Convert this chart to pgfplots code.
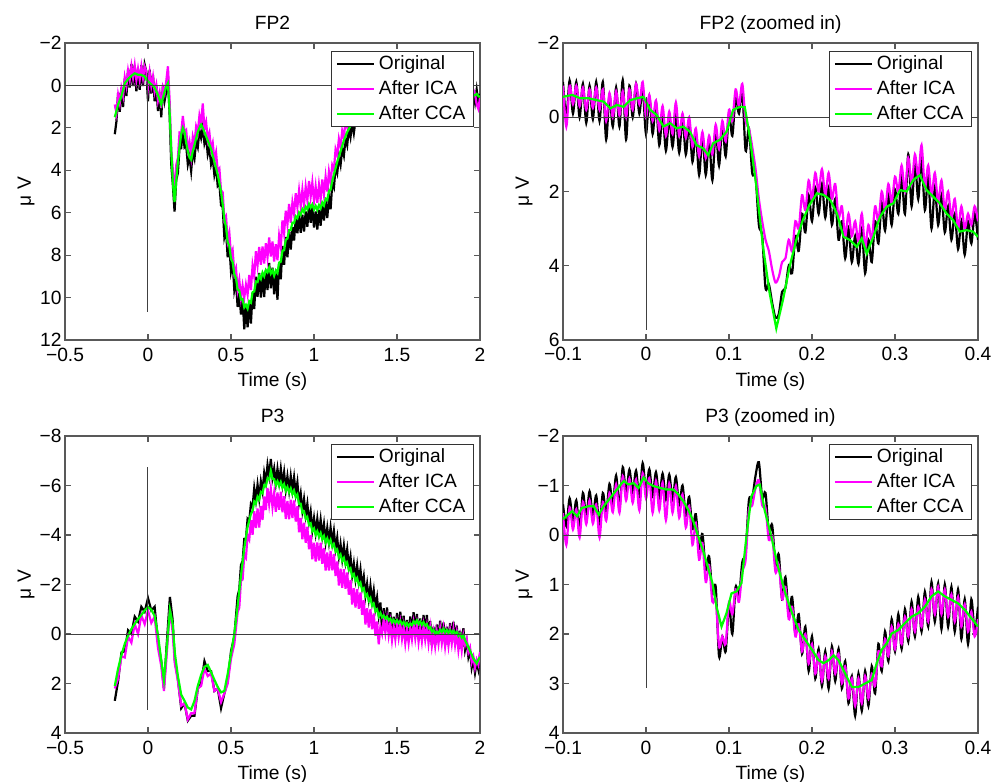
\documentclass[border=0pt]{standalone}
\usepackage{fontspec}
\setmainfont{Liberation Sans}
\usepackage{pgfplots}
\pgfplotsset{compat=1.18}
\usepackage{pgfplotstable}
\definecolor{mgreen}{rgb}{0,1,0}
\definecolor{mmag}{rgb}{1,0,1}
\newcommand{\fs}{\fontsize{9.6}{11}\selectfont}

\pgfplotstableread{
x g b m
-0.20 1.5 2.3 0.9
-0.19 1.2 1.69 1.31
-0.18 0.9 0.34 0.44
-0.17 0.7 1.24 0.84
-0.16 0.5 0.1 0.13
-0.15 0.2 1.02 0.49
-0.14 -0.1 -0.33 -0.38
-0.13 -0.2 0.5 0.03
-0.12 -0.3 -0.75 -0.7
-0.11 -0.38 0.1 -0.27
-0.10 -0.45 -1.01 -0.91
-0.09 -0.51 0.03 -0.37
-0.08 -0.57 -0.97 -0.94
-0.07 -0.54 0.28 -0.25
-0.06 -0.5 -0.73 -0.78
-0.05 -0.5 0.21 -0.27
-0.04 -0.5 -0.95 -0.9
-0.03 -0.46 0.03 -0.35
-0.02 -0.42 -0.98 -0.88
-0.01 -0.31 -0.65 -0.65
0.00 -0.2 0.75 0.1
0.01 -0.12 -0.74 -0.61
0.02 -0.05 0.38 0.03
0.03 0.02 -0.49 -0.41
0.04 0.1 0.75 0.3
0.05 0.27 -0.02 -0.04
0.06 0.45 1.21 0.71
0.07 0.67 0.33 0.33
0.08 0.9 1.5 1.07
0.09 0.6 -0.02 0.11
0.10 0.3 0.73 0.38
0.11 0.05 0.3 -0.2
0.12 -0.1 -0.4 -0.9
0.13 1.2 1.34 0.64
0.14 3.0 3.71 3.01
0.15 4.6 4.71 4.01
0.16 5.5 5.95 5.3
0.17 4.5 4.46 3.76
0.18 3.6 4.13 3.43
0.19 2.9 2.92 2.22
0.20 2.3 2.95 2.25
0.21 2.0 2.14 1.44
0.22 2.2 2.91 2.21
0.23 2.7 2.81 2.11
0.24 3.1 3.72 3.02
0.25 3.4 3.36 2.66
0.26 3.5 4.03 3.33
0.27 3.1 3.12 2.42
0.28 2.8 3.45 2.75
0.29 2.5 2.64 1.94
0.30 2.2 2.91 2.21
0.31 2.0 2.11 1.41
0.32 1.85 2.47 1.77
0.33 2.0 1.96 0.85
0.34 2.2 2.73 2.03
0.35 2.4 2.42 1.72
0.36 2.6 3.25 2.55
0.37 2.8 2.94 2.24
0.38 3.0 3.71 3.01
0.39 3.3 3.41 2.71
0.40 3.6 4.22 3.52
0.41 3.9 3.86 3.16
0.42 4.2 4.73 4.03
0.43 4.6 4.62 3.92
0.44 5.0 5.65 4.95
0.45 5.6 5.74 5.04
0.46 6.32 7.14 6.32
0.47 6.67 6.79 6.17
0.48 7.39 8.1 7.32
0.49 7.57 7.52 6.95
0.50 8.16 8.77 8.01
0.51 8.34 8.36 7.77
0.52 8.9 9.65 8.85
0.53 9.08 9.24 8.61
0.54 9.62 10.44 9.62
0.55 9.67 9.79 9.17
0.56 10.09 10.8 10.0
0.57 10.07 10.02 9.45
0.58 10.46 11.5 10.0
0.59 10.34 10.36 9.4
0.60 10.52 11.4 9.85
0.61 10.17 10.23 8.94
0.62 10.24 11.22 9.64
0.63 9.75 9.77 8.49
0.64 9.71 10.54 9.0
0.65 9.24 9.02 7.82
0.66 9.27 9.96 8.47
0.67 8.97 8.84 7.61
0.68 9.12 10.0 8.45
0.69 8.82 8.88 7.59
0.70 8.99 9.97 8.39
0.71 8.7 8.72 7.44
0.72 8.81 9.64 8.1
0.73 8.59 8.37 7.17
0.74 8.87 9.56 8.07
0.75 8.72 8.59 7.36
0.76 8.97 9.85 8.3
0.77 8.72 8.78 7.49
0.78 8.84 10.1 8.24
0.79 8.35 8.37 7.09
0.80 8.31 9.14 7.61
0.81 7.79 7.57 6.37
0.82 7.77 8.46 6.97
0.83 7.27 7.14 5.91
0.84 7.22 8.1 6.55
0.85 6.82 6.88 5.59
0.86 6.82 7.74 6.48
0.87 6.47 6.69 5.53
0.88 6.49 7.31 6.06
0.89 6.17 6.22 5.08
0.90 6.26 6.97 5.74
0.91 5.99 6.11 4.96
0.92 6.1 6.95 5.7
0.93 5.83 6.09 4.92
0.94 5.97 6.89 5.63
0.95 5.72 5.94 4.78
0.96 5.84 6.66 5.41
0.97 5.59 5.64 4.5
0.98 5.76 6.47 5.24
0.99 5.61 5.73 4.58
1.00 5.85 6.7 5.45
1.01 5.68 5.94 4.77
1.02 5.87 6.79 5.53
1.03 5.64 5.86 4.7
1.04 5.79 6.61 5.36
1.05 5.52 5.57 4.43
1.06 5.66 6.37 5.14
1.07 5.34 5.46 4.31
1.08 5.4 6.25 5.0
1.09 4.98 5.24 4.07
1.10 4.92 5.84 4.58
1.11 4.5 4.61 3.76
1.12 4.2 4.82 3.97
1.13 3.9 3.86 3.01
1.14 3.6 4.13 3.28
1.15 3.35 3.37 2.52
1.16 3.1 3.75 2.9
1.17 2.85 2.99 2.14
1.18 2.6 3.31 2.46
1.19 2.4 2.51 1.66
1.20 2.2 2.82 1.97
1.21 2.05 2.01 1.16
1.22 1.9 2.43 1.58
1.23 1.75 1.77 0.92
1.24 1.6 2.25 1.4
1.25 1.5 1.64 0.79
1.30 1.1 1.4 0.8
1.35 0.9 1.2 0.6
1.40 0.7 1.0 0.4
1.50 0.6 0.9 0.3
1.60 0.5 0.8 0.2
1.70 0.4 0.7 0.2
1.80 0.4 0.7 0.2
1.90 0.45 0.7 0.2
1.96 0.5 0.3 0.2
1.97 0.45 0.8 0.4
1.98 0.4 0.2 0.9
1.99 0.5 0.8 1.1
2.00 0.55 0.4 0.6
}\tabA

\pgfplotstableread{
x b m
-0.100 -0.95 -0.85
-0.096 0.0 0.25
-0.092 -0.99 -0.85
-0.088 -0.1 -0.35
-0.084 -0.95 -0.85
-0.080 0.0 -0.3
-0.076 -0.9 -0.8
-0.072 0.15 -0.2
-0.068 -0.85 -0.75
-0.064 0.05 -0.25
-0.060 -0.95 -0.8
-0.056 0.1 -0.2
-0.052 -0.95 -0.75
-0.048 0.6 0.1
-0.044 -0.6 -0.65
-0.040 0.25 0.0
-0.036 -0.8 -0.7
-0.032 0.25 -0.05
-0.028 -1.0 -0.7
-0.024 0.6 0.0
-0.020 -0.85 -0.75
-0.016 0.0 -0.2
-0.012 -0.9 -0.9
-0.008 -0.1 -0.35
-0.004 -0.8 -0.95
0.000 0.45 0.0
0.004 -0.55 -0.6
0.008 0.45 0.1
0.012 -0.4 -0.45
0.016 0.75 0.35
0.020 -0.1 -0.3
0.024 0.9 0.5
0.028 0.0 -0.15
0.032 0.8 0.45
0.036 -0.05 -0.4
0.040 0.95 0.5
0.044 0.0 -0.1
0.048 1.0 0.55
0.052 0.15 0.0
0.056 1.2 0.8
0.060 0.4 0.3
0.064 1.55 1.05
0.068 0.5 0.4
0.072 1.55 1.1
0.076 0.6 0.5
0.080 1.7 1.0
0.084 0.3 0.2
0.088 1.3 0.85
0.092 0.2 0.1
0.096 1.05 0.65
0.100 -0.1 -0.2
0.104 0.5 0.1
0.108 -0.55 -0.75
0.112 -0.1 -0.3
0.116 -0.7 -0.9
0.120 0.9 0.1
0.124 0.3 0.3
0.128 1.5 0.8
0.132 1.6 1.4
0.136 2.9 2.2
0.140 3.2 2.8
0.144 4.6 3.3
0.148 4.5 3.6
0.152 5.0 4.1
0.156 5.4 4.45
0.160 5.3 4.3
0.164 4.7 3.9
0.168 4.6 3.8
0.172 4.0 3.3
0.176 4.2 3.6
0.180 3.2 2.8
0.184 3.6 3.0
0.188 2.6 2.1
0.192 3.1 2.5
0.196 2.1 1.7
0.200 2.8 2.2
0.204 1.9 1.5
0.208 2.6 2.0
0.212 1.8 1.4
0.216 2.7 2.1
0.220 1.9 1.5
0.224 2.9 2.2
0.228 2.2 1.8
0.232 3.3 2.7
0.236 2.8 2.4
0.240 3.8 3.2
0.244 3.0 2.6
0.248 3.9 3.2
0.252 3.2 2.8
0.256 3.95 3.35
0.260 3.0 2.6
0.264 4.2 3.5
0.268 3.3 2.9
0.272 3.9 3.3
0.276 2.8 2.4
0.280 3.4 2.8
0.284 2.3 2.0
0.288 3.05 2.5
0.292 2.1 1.8
0.296 2.9 2.3
0.300 1.95 1.6
0.304 2.6 2.0
0.308 1.6 1.3
0.312 2.6 2.0
0.316 1.0 1.1
0.320 2.4 1.8
0.324 1.2 1.0
0.328 2.2 1.6
0.332 1.1 0.75
0.336 2.5 1.9
0.340 1.6 1.3
0.344 3.0 2.1
0.348 1.9 1.5
0.352 2.9 2.3
0.356 2.1 1.7
0.360 3.1 2.5
0.364 2.4 2.0
0.368 3.3 2.7
0.372 2.6 2.2
0.376 3.55 3.0
0.380 2.8 2.4
0.384 3.7 3.0
0.388 2.8 2.6
0.392 3.4 2.9
0.396 2.6 2.4
0.400 3.3 2.8
}\tabB

\pgfplotstableread{
x g b m
-0.20 2.1 2.7 2.2
-0.18 1.4 1.9 1.8
-0.16 0.85 0.75 0.9
-0.14 0.4 0.7 0.95
-0.12 0.07 -0.15 0.1
-0.10 -0.2 0.0 0.35
-0.08 -0.41 -0.7 -0.4
-0.06 -0.6 -0.5 0.0
-0.04 -0.77 -1.1 -0.75
-0.02 -0.95 -0.9 -0.4
0.00 -1.09 -1.45 -0.95
0.02 -0.98 -0.95 -0.45
0.04 -0.73 -1.1 -0.7
0.06 0.03 0.3 0.55
0.08 1.08 1.1 1.3
0.096 1.86 2.2 2.3
0.112 0.65 0.5 0.9
0.132 -0.97 -1.5 -1.0
0.148 -0.43 -0.6 -0.1
0.162 0.78 1.1 1.2
0.18 1.7 1.8 1.9
0.20 2.45 3.0 2.9
0.22 2.7 2.8 2.8
0.24 2.97 3.5 3.45
0.26 3.05 3.3 3.2
0.28 2.7 3.3 3.2
0.30 2.1 2.2 2.2
0.32 1.65 2.0 2.1
0.34 1.33 1.1 1.4
0.36 1.25 1.5 1.7
0.38 1.54 1.5 1.6
0.40 1.85 2.3 2.3
0.42 2.14 2.2 2.2
0.44 2.36 3.0 2.75
0.46 2.3 2.4 2.4
0.48 1.62 1.9 2.0
0.50 0.81 0.7 1.0
0.52 0.0 0.1 0.4
0.54 -1.13 -1.53 -0.88
0.55 -1.74 -1.8 -1.07
0.56 -2.35 -2.79 -2.15
0.57 -2.9 -2.94 -2.2
0.58 -3.46 -3.84 -3.19
0.59 -3.9 -3.84 -3.08
0.60 -4.33 -4.65 -3.98
0.61 -4.59 -4.57 -3.82
0.62 -4.85 -5.25 -4.6
0.63 -4.97 -5.13 -4.01
0.64 -5.35 -5.89 -4.96
0.65 -5.27 -5.41 -4.28
0.66 -5.55 -6.03 -5.07
0.67 -5.44 -5.48 -4.3
0.68 -5.74 -6.16 -5.17
0.69 -5.69 -5.77 -4.61
0.70 -6.01 -6.51 -5.56
0.71 -5.97 -6.13 -5.01
0.72 -6.29 -6.83 -5.9
0.73 -6.25 -6.39 -5.26
0.74 -6.59 -7.07 -5.85
0.75 -6.27 -6.31 -5.13
0.76 -6.26 -6.68 -5.69
0.77 -6.02 -6.1 -4.94
0.78 -6.17 -6.67 -5.72
0.79 -5.98 -6.14 -5.02
0.80 -6.14 -6.68 -5.75
0.81 -5.91 -6.05 -4.92
0.82 -6.05 -6.53 -5.57
0.83 -5.79 -5.83 -4.65
0.84 -5.94 -6.36 -5.37
0.85 -5.72 -5.8 -4.64
0.86 -5.88 -6.38 -5.43
0.87 -5.65 -5.81 -4.69
0.88 -5.79 -6.33 -5.4
0.89 -5.53 -5.67 -4.54
0.90 -5.64 -6.12 -5.16
0.91 -5.25 -5.29 -4.11
0.92 -5.26 -5.68 -4.69
0.93 -4.91 -4.99 -3.83
0.94 -4.95 -5.45 -4.5
0.95 -4.65 -4.81 -3.69
0.96 -4.72 -5.26 -4.33
0.97 -4.41 -4.55 -3.42
0.98 -4.47 -4.95 -3.99
0.99 -4.16 -4.2 -3.02
1.00 -4.26 -4.68 -3.69
1.01 -4.01 -4.09 -2.93
1.02 -4.15 -4.65 -3.7
1.03 -3.93 -4.09 -2.97
1.04 -4.08 -4.62 -3.69
1.05 -3.83 -3.97 -2.84
1.06 -3.96 -4.44 -3.48
1.07 -3.7 -3.74 -2.56
1.08 -3.86 -4.28 -3.29
1.09 -3.64 -3.72 -2.56
1.10 -3.8 -4.3 -3.35
1.11 -3.53 -3.69 -2.57
1.12 -3.62 -4.16 -3.23
1.13 -3.33 -3.47 -2.34
1.14 -3.41 -3.89 -2.93
1.15 -3.1 -3.14 -1.96
1.16 -3.21 -3.63 -2.64
1.17 -2.95 -3.03 -1.87
1.18 -3.07 -3.57 -2.62
1.19 -2.79 -2.95 -1.83
1.20 -2.88 -3.42 -2.49
1.21 -2.58 -2.72 -1.59
1.22 -2.65 -3.13 -2.17
1.23 -2.33 -2.37 -1.19
1.24 -2.42 -2.84 -1.85
1.25 -2.15 -2.23 -1.07
1.26 -2.26 -2.76 -1.81
1.27 -1.98 -2.14 -1.02
1.28 -2.07 -2.61 -1.68
1.29 -1.77 -1.91 -0.78
1.30 -1.84 -2.32 -1.36
1.31 -1.52 -1.56 -0.38
1.32 -1.61 -2.03 -1.04
1.33 -1.34 -1.42 -0.26
1.34 -1.45 -1.95 -1.0
1.35 -1.15 -1.31 -0.19
1.36 -1.22 -1.76 -0.83
1.37 -0.92 -1.06 0.07
1.38 -0.99 -1.47 -0.51
1.39 -0.72 -0.76 0.42
1.40 -0.85 -1.27 -0.28
1.41 -0.67 -0.15 -0.01
1.42 -0.75 -1.04 -0.59
1.43 -0.62 -0.25 -0.05
1.44 -0.7 -1.07 -0.59
1.45 -0.55 -0.14 0.04
1.46 -0.62 -0.88 -0.44
1.47 -0.47 0.14 0.24
1.48 -0.57 -0.7 -0.31
1.49 -0.45 0.08 0.21
1.50 -0.56 -0.85 -0.4
1.51 -0.44 -0.07 0.13
1.52 -0.53 -0.9 -0.42
1.53 -0.4 0.01 0.19
1.54 -0.48 -0.74 -0.3
1.55 -0.34 0.27 0.37
1.56 -0.44 -0.57 -0.18
1.57 -0.31 0.22 0.35
1.58 -0.42 -0.71 -0.26
1.59 -0.36 0.02 0.21
1.60 -0.51 -0.88 -0.4
1.61 -0.42 -0.01 0.17
1.62 -0.55 -0.81 -0.37
1.63 -0.4 0.2 0.31
1.64 -0.5 -0.63 -0.24
1.65 -0.37 0.16 0.29
1.66 -0.48 -0.77 -0.32
1.67 -0.34 0.04 0.23
1.68 -0.4 -0.77 -0.29
1.69 -0.23 0.18 0.36
1.70 -0.27 -0.53 -0.24
1.71 -0.09 0.45 0.47
1.72 -0.16 -0.29 -0.05
1.73 -0.01 0.45 0.5
1.74 -0.09 -0.38 -0.08
1.75 -0.03 0.3 0.39
1.76 -0.17 -0.54 -0.21
1.77 -0.08 0.28 0.36
1.78 -0.21 -0.47 -0.18
1.79 -0.06 0.45 0.5
1.80 -0.16 -0.29 -0.05
1.81 -0.04 0.42 0.47
1.82 -0.15 -0.44 -0.14
1.83 -0.04 0.3 0.38
1.84 -0.13 -0.5 -0.17
1.85 0.0 0.36 0.44
1.86 -0.08 -0.34 -0.05
1.87 0.08 0.6 0.64
1.88 0.0 -0.13 0.11
1.89 0.15 0.6 0.66
1.90 0.06 -0.23 0.07
1.91 0.25 0.63 0.44
1.92 0.39 0.29 0.2
1.93 0.53 0.93 0.74
1.94 0.68 0.66 0.55
1.95 0.83 1.36 1.14
1.96 0.99 1.04 0.92
1.97 1.09 1.57 1.36
1.98 1.19 1.14 1.04
1.99 1.05 1.43 1.24
2.00 0.92 0.82 0.73
}\tabC

\pgfplotstableread{
x b m
-0.100 -0.62 -0.44
-0.096 -0.18 0.20
-0.092 -0.74 -0.56
-0.088 -0.26 -0.11
-0.084 -0.70 -0.52
-0.080 -0.10 0.05
-0.076 -0.85 -0.67
-0.072 -0.37 -0.22
-0.068 -0.88 -0.70
-0.064 -0.38 -0.23
-0.060 -0.80 -0.62
-0.056 -0.15 0.05
-0.052 -0.85 -0.67
-0.048 -0.44 -0.29
-0.044 -1.03 -0.85
-0.040 -0.61 -0.46
-0.036 -1.20 -1.02
-0.032 -0.55 -0.45
-0.028 -1.37 -1.19
-0.024 -0.85 -0.70
-0.020 -1.32 -1.14
-0.016 -0.85 -0.65
-0.012 -1.30 -1.12
-0.008 -0.75 -0.50
-0.004 -1.45 -1.25
0.000 -0.89 -0.74
0.004 -1.33 -1.15
0.008 -0.80 -0.45
0.012 -1.27 -1.09
0.016 -0.75 -0.50
0.020 -1.24 -1.06
0.024 -0.72 -0.30
0.028 -1.22 -1.04
0.032 -0.72 -0.45
0.036 -1.17 -0.99
0.040 -0.60 -0.35
0.044 -1.00 -0.82
0.048 -0.39 -0.15
0.052 -0.77 -0.59
0.056 -0.12 0.20
0.060 -0.42 -0.24
0.064 0.28 0.50
0.068 -0.02 0.16
0.072 0.70 0.95
0.076 0.43 0.61
0.080 1.17 1.35
0.084 1.05 1.30
0.088 2.45 2.25
0.092 2.05 2.05
0.096 2.35 2.20
0.100 1.40 1.35
0.104 2.00 1.60
0.108 1.05 1.10
0.112 1.25 1.35
0.116 0.55 0.75
0.120 0.35 0.50
0.124 -0.70 -0.50
0.128 -0.75 -0.60
0.132 -1.20 -0.95
0.136 -1.47 -1.10
0.140 -0.75 -0.60
0.144 -0.85 -0.55
0.148 -0.05 0.10
0.152 -0.20 0.00
0.156 0.60 0.75
0.160 0.40 0.60
0.164 1.30 1.30
0.168 0.85 1.05
0.172 1.60 1.70
0.176 1.25 1.45
0.180 2.00 2.05
0.184 1.60 1.80
0.188 2.40 2.35
0.192 1.85 2.00
0.196 2.75 2.60
0.200 2.05 2.20
0.204 2.90 2.80
0.208 2.30 2.40
0.212 3.05 2.95
0.216 2.35 2.45
0.220 3.10 2.90
0.224 2.25 2.35
0.228 2.95 2.80
0.232 2.30 2.40
0.236 3.10 3.00
0.240 2.55 2.65
0.244 3.40 3.30
0.248 2.85 2.90
0.252 3.65 3.45
0.256 2.80 2.90
0.260 3.55 3.40
0.264 2.75 2.85
0.268 3.45 3.30
0.272 2.65 2.80
0.276 3.20 3.05
0.280 2.20 2.35
0.284 2.75 2.65
0.288 1.95 2.10
0.292 2.55 2.45
0.296 1.70 1.85
0.300 2.35 2.30
0.304 1.60 1.80
0.308 2.30 2.20
0.312 1.50 1.65
0.316 2.15 2.05
0.320 1.35 1.50
0.324 2.05 1.95
0.328 1.25 1.45
0.332 1.95 1.85
0.336 1.15 1.30
0.340 1.85 1.75
0.344 0.95 1.10
0.348 1.75 1.60
0.352 0.98 1.05
0.356 1.90 1.60
0.360 1.00 1.10
0.364 1.85 1.65
0.368 1.05 1.20
0.372 1.95 1.75
0.376 1.10 1.25
0.380 2.10 1.85
0.384 1.30 1.40
0.388 2.20 1.95
0.392 1.30 1.55
0.396 1.95 2.05
0.400 1.45 1.70
}\tabD

\pgfplotsset{
  eeg/.style={
    scale only axis, width=207.5pt, height=148.5pt,
    y dir=reverse,
    axis line style={black!65, line width=0.6pt},
    every tick/.style={black!65, line width=0.6pt},
    major tick length=3pt,
    tick align=inside,
    font=\fs,
    xticklabel style={anchor=base, yshift=-10.5pt, inner sep=0pt, font=\fs},
    yticklabel style={anchor=east, xshift=-1.5pt, inner sep=0pt, font=\fs},
    every axis title/.style={at={(axis description cs:0.5,1.0465)}, anchor=base, font=\fs, inner sep=0pt},
    every axis x label/.style={at={(axis description cs:0.5,-0.155)}, anchor=base, font=\fs, inner sep=0pt},
    every axis y label/.style={at={(axis description cs:-0.082,0.5)}, anchor=base, rotate=90, font=\fs, inner sep=0pt},
    xlabel={Time (s)}, ylabel={μ V},
    legend style={at={(axis description cs:0.9855,0.973)}, anchor=north east, draw=black!80, fill=white, line width=0.6pt, font=\fs, inner xsep=2pt, inner ysep=0pt, row sep=0pt, cells={anchor=west}},
    legend image code/.code={\draw[#1] (0pt,0pt) -- (18.5pt,0pt);},
  },
  orig/.style={black, line width=1.1pt},
  ica/.style={mmag, line width=1.1pt},
  cca/.style={mgreen, line width=1.1pt},
  refl/.style={black!75, line width=0.5pt, forget plot},
}

\begin{document}
\begin{tikzpicture}
\path[use as bounding box] (0,0) rectangle (501.5pt,391pt);

% FP2 full
\begin{axis}[eeg, at={(32.5pt,221pt)}, anchor=south west,
  title={FP2},
  xmin=-0.5, xmax=2, ymin=-2, ymax=12,
  xtick={-0.5,0,0.5,1,1.5,2}, xticklabels={−0.5,0,0.5,1,1.5,2},
  ytick={-2,0,2,4,6,8,10,12}, yticklabels={−2,0,2,4,6,8,10,12}]
\addplot[orig] table[x=x,y=b]{\tabA};
\addplot[ica] table[x=x,y=m]{\tabA};
\addplot[cca] table[x=x,y=g]{\tabA};
\addplot[refl] coordinates {(-0.5,0) (2,0)};
\addplot[refl] coordinates {(0,-0.6) (0,10.67)};
\legend{Original,After ICA,After CCA}
\end{axis}

% FP2 zoomed
\begin{axis}[eeg, at={(281.5pt,221pt)}, anchor=south west,
  title={FP2 (zoomed in)},
  xmin=-0.1, xmax=0.4, ymin=-2, ymax=6,
  xtick={-0.1,0,0.1,0.2,0.3,0.4}, xticklabels={−0.1,0,0.1,0.2,0.3,0.4},
  ytick={-2,0,2,4,6}, yticklabels={−2,0,2,4,6}]
\addplot[orig, smooth] table[x=x,y=b]{\tabB};
\addplot[ica, smooth] table[x=x,y=m]{\tabB};
\addplot[cca] coordinates {
(-0.100,-0.55) (-0.089,-0.60) (-0.079,-0.51) (-0.069,-0.51) (-0.059,-0.46)
(-0.051,-0.42) (-0.043,-0.24) (-0.035,-0.33) (-0.027,-0.28) (-0.019,-0.46)
(-0.011,-0.51) (-0.003,-0.55) (0.005,-0.20) (0.013,-0.06) (0.021,0.25)
(0.029,0.16) (0.037,0.30) (0.045,0.25) (0.053,0.39) (0.061,0.75)
(0.069,0.84) (0.075,1.02) (0.081,0.70) (0.089,0.61) (0.097,0.39)
(0.105,-0.20) (0.113,-0.28) (0.119,-0.28) (0.125,0.52) (0.133,1.87)
(0.141,3.49) (0.149,4.74) (0.157,5.69) (0.165,4.92) (0.173,4.03)
(0.181,3.31) (0.189,2.77) (0.197,2.36) (0.206,2.05) (0.214,2.09)
(0.222,2.23) (0.230,2.59) (0.238,3.22) (0.246,3.31) (0.254,3.49)
(0.260,3.26) (0.266,3.67) (0.274,3.22) (0.282,2.68) (0.290,2.41)
(0.298,2.32) (0.306,1.96) (0.314,2.00) (0.322,1.69) (0.330,1.56)
(0.338,1.96) (0.346,2.14) (0.354,2.32) (0.362,2.59) (0.370,2.77)
(0.378,3.08) (0.386,3.04) (0.394,3.08) (0.400,3.22)};
\addplot[refl] coordinates {(-0.1,0) (0.4,0)};
\addplot[refl] coordinates {(0,-0.55) (0,5.73)};
\legend{Original,After ICA,After CCA}
\end{axis}

% P3 full
\begin{axis}[eeg, at={(32.5pt,24.5pt)}, anchor=south west,
  title={P3},
  xmin=-0.5, xmax=2, ymin=-8, ymax=4,
  xtick={-0.5,0,0.5,1,1.5,2}, xticklabels={−0.5,0,0.5,1,1.5,2},
  ytick={-8,-6,-4,-2,0,2,4}, yticklabels={−8,−6,−4,−2,0,2,4}]
\addplot[orig] table[x=x,y=b]{\tabC};
\addplot[ica] table[x=x,y=m]{\tabC};
\addplot[cca] table[x=x,y=g]{\tabC};
\addplot[refl] coordinates {(-0.5,0) (2,0)};
\addplot[refl] coordinates {(0,-6.74) (0,3.07)};
\legend{Original,After ICA,After CCA}
\end{axis}

% P3 zoomed
\begin{axis}[eeg, at={(281.5pt,24.5pt)}, anchor=south west,
  title={P3 (zoomed in)},
  xmin=-0.1, xmax=0.4, ymin=-2, ymax=4,
  xtick={-0.1,0,0.1,0.2,0.3,0.4}, xticklabels={−0.1,0,0.1,0.2,0.3,0.4},
  ytick={-2,-1,0,1,2,3,4}, yticklabels={−2,−1,0,1,2,3,4}]
\addplot[orig, smooth] table[x=x,y=b]{\tabD};
\addplot[ica, smooth] table[x=x,y=m]{\tabD};
\addplot[cca] coordinates {
(-0.100,-0.32) (-0.096,-0.38) (-0.089,-0.48) (-0.083,-0.38) (-0.077,-0.55)
(-0.069,-0.58) (-0.063,-0.58) (-0.057,-0.41) (-0.051,-0.58) (-0.043,-0.75)
(-0.035,-0.92) (-0.027,-1.09) (-0.021,-1.02) (-0.015,-1.05) (-0.009,-0.95)
(-0.003,-1.16) (0.002,-1.05) (0.009,-0.99) (0.017,-0.95) (0.025,-0.92)
(0.033,-0.92) (0.039,-0.82) (0.045,-0.68) (0.051,-0.51) (0.057,-0.28)
(0.063,0.03) (0.069,0.33) (0.075,0.67) (0.080,0.97) (0.085,1.45)
(0.091,1.85) (0.097,1.58) (0.103,1.18) (0.109,1.14) (0.115,0.97)
(0.121,0.03) (0.127,-0.78) (0.133,-0.99) (0.137,-1.02) (0.143,-0.50)
(0.151,0.03) (0.159,0.64) (0.168,1.18) (0.176,1.58) (0.184,1.92)
(0.192,2.12) (0.200,2.32) (0.208,2.53) (0.214,2.59) (0.220,2.53)
(0.226,2.43) (0.232,2.53) (0.240,2.80) (0.248,3.07) (0.256,3.07)
(0.264,3.00) (0.272,2.93) (0.278,2.59) (0.284,2.32) (0.290,2.19)
(0.296,1.99) (0.304,1.92) (0.312,1.78) (0.320,1.65) (0.328,1.58)
(0.336,1.45) (0.344,1.24) (0.352,1.14) (0.360,1.24) (0.368,1.31)
(0.376,1.38) (0.384,1.51) (0.392,1.68) (0.400,1.85)};
\addplot[refl] coordinates {(-0.1,0) (0.4,0)};
\addplot[refl] coordinates {(0,-1.1) (0,3.09)};
\legend{Original,After ICA,After CCA}
\end{axis}
\end{tikzpicture}
\end{document}
